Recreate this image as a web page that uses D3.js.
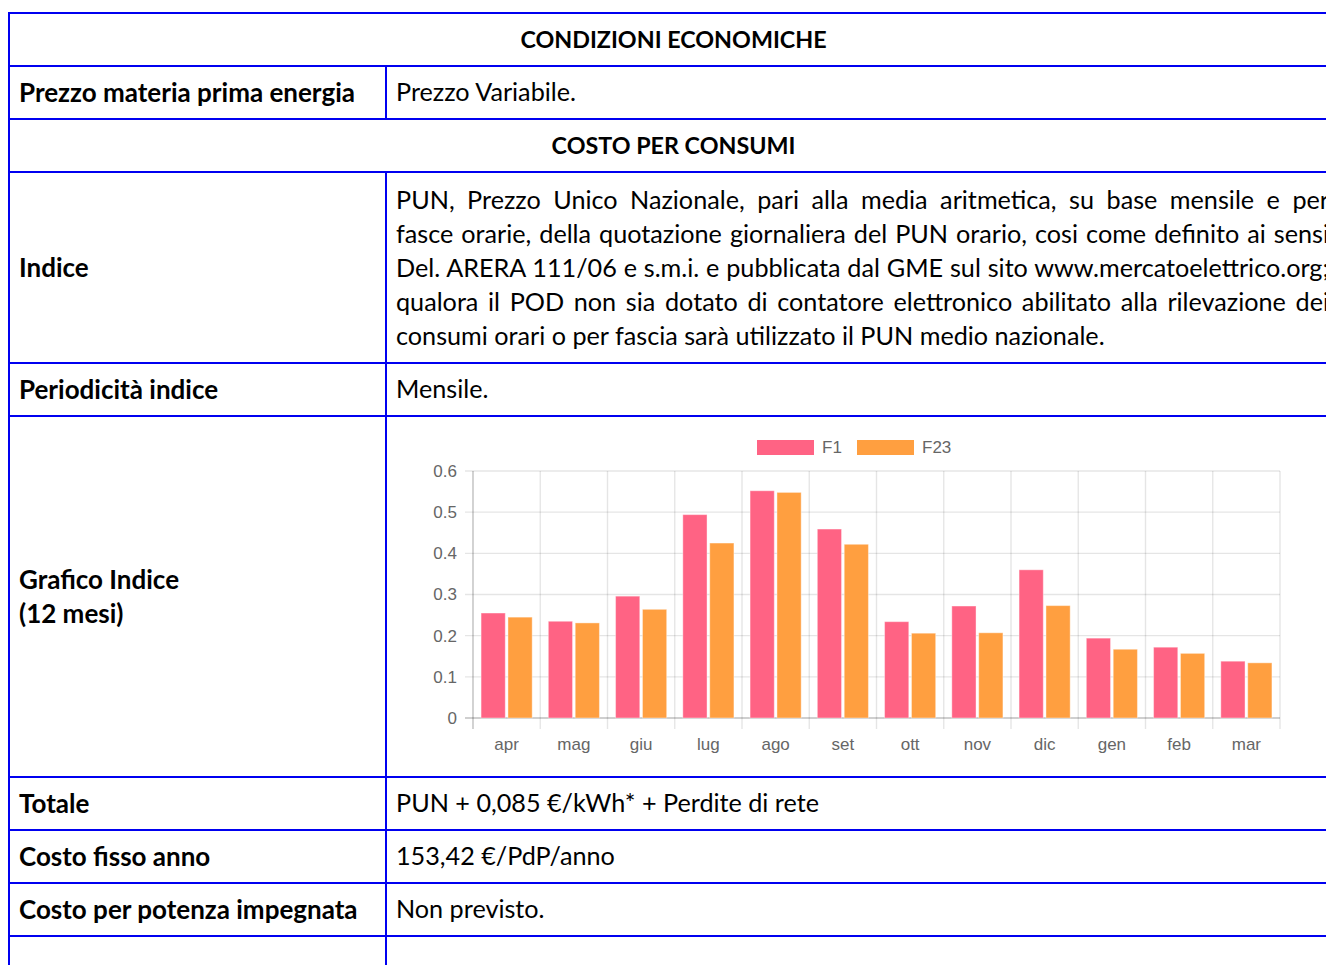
<!DOCTYPE html>
<html lang="it">
<head>
<meta charset="UTF-8">
<title>Condizioni economiche</title>
<script src="https://d3js.org/d3.v7.min.js"></script>
<style>
body,html{margin:0;padding:0;background:#fff;overflow:hidden;}
</style>
</head>
<body>
<svg id="page" width="1326" height="965"></svg>
<script>
// chart data (PUN per fascia, 12 mesi)
const months = ["apr","mag","giu","lug","ago","set","ott","nov","dic","gen","feb","mar"];
const f1Values = [0.255,0.235,0.296,0.494,0.552,0.459,0.234,0.272,0.360,0.194,0.172,0.138];
const f23Values = [0.245,0.231,0.264,0.425,0.548,0.422,0.206,0.207,0.273,0.167,0.157,0.134];
const seriesNames = ["F1","F23"];
const yTicks = [0,0.1,0.2,0.3,0.4,0.5,0.6];

// table texts
const headerTitles = ["CONDIZIONI ECONOMICHE","COSTO PER CONSUMI"];
const indiceLines = [
  "PUN, Prezzo Unico Nazionale, pari alla media aritmetica, su base mensile e per",
  "fasce orarie, della quotazione giornaliera del PUN orario, cosi come definito ai sensi",
  "Del. ARERA 111/06 e s.m.i. e pubblicata dal GME sul sito www.mercatoelettrico.org;",
  "qualora il POD non sia dotato di contatore elettronico abilitato alla rilevazione dei",
  "consumi orari o per fascia sarà utilizzato il PUN medio nazionale."
];

const svg = d3.select("#page");
const blue = "#0000f0";
const tableFont = "Lato, 'Open Sans', sans-serif";
const headSize = 23.3, labelSize = 26, textSize = 25.2;
const left = 9, right = 1338, colX = 386;

// row boundaries
const rowY = [13,66,119,172,363,416,777,830,883,936,990];

const rows = [
  {type:"head", text:headerTitles[0]},
  {type:"pair", label:["Prezzo materia prima energia"], value:"Prezzo Variabile."},
  {type:"head", text:headerTitles[1]},
  {type:"para", label:["Indice"]},
  {type:"pair", label:["Periodicità indice"], value:"Mensile."},
  {type:"chart", label:["Grafico Indice","(12 mesi)"]},
  {type:"pair", label:["Totale"], value:"PUN + 0,085 €/kWh* + Perdite di rete"},
  {type:"pair", label:["Costo fisso anno"], value:"153,42 €/PdP/anno"},
  {type:"pair", label:["Costo per potenza impegnata"], value:"Non previsto."},
  {type:"pair", label:[""], value:""}
];

const tbl = svg.append("g");

rows.forEach((r, i) => {
  const y0 = rowY[i], y1 = rowY[i+1], cy = (y0+y1)/2;
  if (r.type === "head") {
    tbl.append("text").attr("x", (left+right)/2).attr("y", cy).attr("dy","0.36em")
      .attr("text-anchor","middle").attr("font-family",tableFont).attr("font-weight",700)
      .attr("font-size",headSize).attr("fill","#000").text(r.text);
    return;
  }
  // vertical column divider
  tbl.append("line").attr("x1",colX).attr("x2",colX).attr("y1",y0).attr("y2",y1)
    .attr("stroke",blue).attr("stroke-width",2);
  r.label.forEach((t, k) => {
    tbl.append("text").attr("x",19).attr("y", cy + (k - (r.label.length-1)/2)*34).attr("dy","0.35em")
      .attr("font-family",tableFont).attr("font-weight",700).attr("font-size",labelSize)
      .attr("fill","#000").text(t);
  });
  if (r.type === "pair") {
    tbl.append("text").attr("x",396).attr("y",cy).attr("dy","0.35em")
      .attr("font-family",tableFont).attr("font-size",textSize).attr("fill","#000").text(r.value);
  }
  if (r.type === "para") {
    indiceLines.forEach((t, k) => {
      const tx = tbl.append("text").attr("x",396).attr("y",200 + k*34).attr("dy","0.35em")
        .attr("font-family",tableFont).attr("font-size",textSize).attr("fill","#000").text(t);
      if (k < indiceLines.length-1) {
        // justify on word spaces
        const w = tx.node().getComputedTextLength();
        const spaces = t.split(" ").length - 1;
        tx.attr("word-spacing", (1329 - 396 - w)/spaces);
      }
    });
  }
});

// horizontal borders
tbl.selectAll("line.h").data(rowY.slice(0,-1)).enter().append("line")
  .attr("class","h").attr("x1",left).attr("x2",right).attr("y1",d=>d).attr("y2",d=>d)
  .attr("stroke",blue).attr("stroke-width",2);
tbl.append("line").attr("x1",left).attr("x2",left).attr("y1",rowY[0]-1).attr("y2",990)
  .attr("stroke",blue).attr("stroke-width",2);

// ---- bar chart ----
const cx0 = 473, cx1 = 1280, cyTop = 471, cyBot = 718;
const chartFont = "'Liberation Sans', Arial, Helvetica, sans-serif";
const g = svg.append("g");

const x = d3.scaleBand().domain(months).range([cx0,cx1]).paddingInner(0).paddingOuter(0);
const inner = d3.scaleBand().domain(seriesNames).range([0, x.bandwidth()*0.8]).paddingInner(0.1).paddingOuter(0.05);
const y = d3.scaleLinear().domain([0,0.6]).range([cyBot,cyTop]);

// horizontal grid
g.append("g").selectAll("line").data(yTicks).enter().append("line")
  .attr("x1",cx0-8).attr("x2",cx1).attr("y1",d=>y(d)).attr("y2",d=>y(d))
  .attr("stroke",d=>d===0?"rgba(0,0,0,0.25)":"rgba(0,0,0,0.1)").attr("stroke-width",1.4);

// vertical grid
const vx = months.map(m=>x(m)).concat([cx1]);
g.append("g").selectAll("line").data(vx).enter().append("line")
  .attr("x1",d=>d).attr("x2",d=>d).attr("y1",cyTop).attr("y2",cyBot+11)
  .attr("stroke",(d,i)=>i===0?"rgba(0,0,0,0.25)":"rgba(0,0,0,0.1)").attr("stroke-width",1.4);

// y axis labels
g.append("g").selectAll("text").data(yTicks).enter().append("text")
  .attr("x",457).attr("y",d=>y(d)).attr("dy","0.35em").attr("text-anchor","end")
  .attr("font-family",chartFont).attr("font-size",17).attr("fill","#666")
  .text(d=>d3.format("")(+d.toFixed(1)));

// x axis labels
const xAxis = d3.axisBottom(x).tickSize(0).tickPadding(0);
const xa = g.append("g").attr("transform",`translate(0,${cyBot+26})`).call(xAxis);
xa.select(".domain").remove();
xa.selectAll("text").attr("font-family",chartFont).attr("font-size",17).attr("fill","#666").attr("dy","0.35em").attr("y",0);

// bars
const colors = {F1:"#ff6384", F23:"#ff9f40"};
const data = months.map((m,i)=>({m, vals:[{s:"F1",v:f1Values[i]},{s:"F23",v:f23Values[i]}]}));
const off = x.bandwidth()*0.1;
g.append("g").selectAll("g").data(data).enter().append("g")
  .attr("transform",d=>`translate(${x(d.m)+off},0)`)
  .selectAll("rect").data(d=>d.vals).enter().append("rect")
  .attr("x",d=>inner(d.s)).attr("width",inner.bandwidth())
  .attr("y",d=>y(d.v)).attr("height",d=>y(0)-y(d.v))
  .attr("fill",d=>colors[d.s]).attr("stroke","rgba(255,255,255,0.4)").attr("stroke-width",1);

// legend
const lg = g.append("g");
const legendX = [757, 857];
seriesNames.forEach((s,i)=>{
  lg.append("rect").attr("x",legendX[i]).attr("y",440).attr("width",57).attr("height",15)
    .attr("fill",colors[s]);
  lg.append("text").attr("x",legendX[i]+65).attr("y",447.5).attr("dy","0.35em")
    .attr("font-family",chartFont).attr("font-size",17).attr("fill","#666").text(s);
});
</script>
</body>
</html>
